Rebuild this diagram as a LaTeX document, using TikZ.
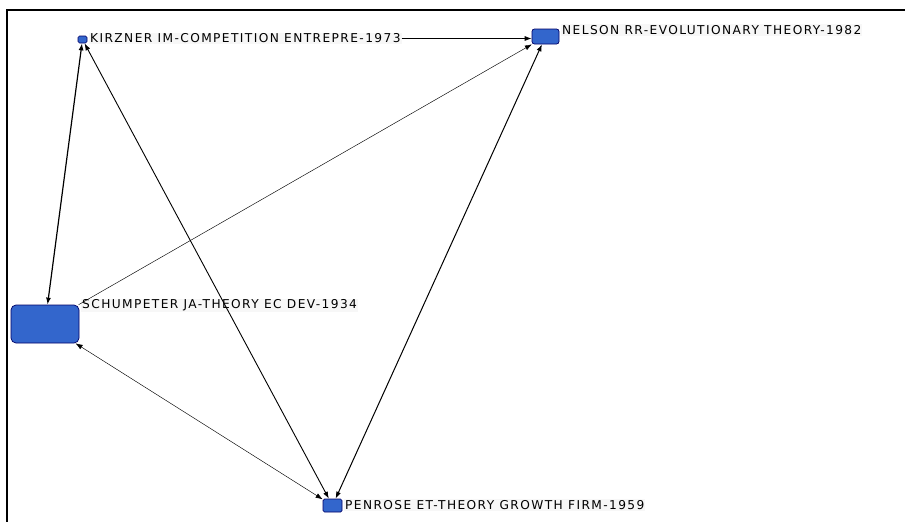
\documentclass[tikz,border=0pt]{standalone}
\usepackage{fontspec}
\setmainfont{DejaVu Sans}
\newfontfamily\lblfont[LetterSpace=11.5]{DejaVu Sans}
\usetikzlibrary{arrows.meta}
\begin{document}
\begin{tikzpicture}[x=1pt,y=-1pt,
  vert/.style={draw=blue!40!black,line width=0.7pt,rounded corners=2.5pt,inner sep=0pt,anchor=center},
  lbl/.style={anchor=west,inner sep=1pt,font=\lblfont\fontsize{12.2}{12}\selectfont,fill=black!3},
  edge/.style={line width=#1,-{Latex[length=7pt,width=5pt]}},
  bedge/.style={line width=#1,{Latex[length=7pt,width=5pt]}-{Latex[length=7pt,width=5pt]}},
]
\useasboundingbox (0,0) rectangle (905,522);
\draw[line width=2pt] (7,522) -- (7,10) -- (905,10);
\definecolor{nodeblue}{HTML}{3366CC}
\tikzset{vert/.append style={fill=nodeblue}}
\node[vert,minimum width=9pt,minimum height=7pt,rounded corners=1.5pt] (kir) at (82.5,39.5) {};
\node[vert,minimum width=27pt,minimum height=15pt] (nel) at (545.5,36.5) {};
\node[vert,minimum width=68pt,minimum height=38pt,rounded corners=5pt] (sch) at (45,324) {};
\node[vert,minimum width=19pt,minimum height=13pt,rounded corners=1.5pt] (pen) at (332.5,505.5) {};
\node[lbl] (kirl) at (89,38.5) {KIRZNER IM-COMPETITION ENTREPRE-1973};
\node[lbl] (nell) at (561,30) {NELSON RR-EVOLUTIONARY THEORY-1982};
\node[lbl] (schl) at (81,305.5) {SCHUMPETER JA-THEORY EC DEV-1934};
\node[lbl] (penl) at (344,505) {PENROSE ET-THEORY GROWTH FIRM-1959};
\draw[edge=0.8pt] (kirl.east) -- (nel.west |- kirl.east);
\draw[bedge=1.2pt] (kir) -- (sch);
\draw[bedge=0.9pt] (kir) -- (pen);
\draw[edge=0.45pt] (sch) -- (nel);
\draw[bedge=1.0pt] (nel) -- (pen);
\draw[bedge=0.45pt] (sch) -- (pen);
\end{tikzpicture}
\end{document}
